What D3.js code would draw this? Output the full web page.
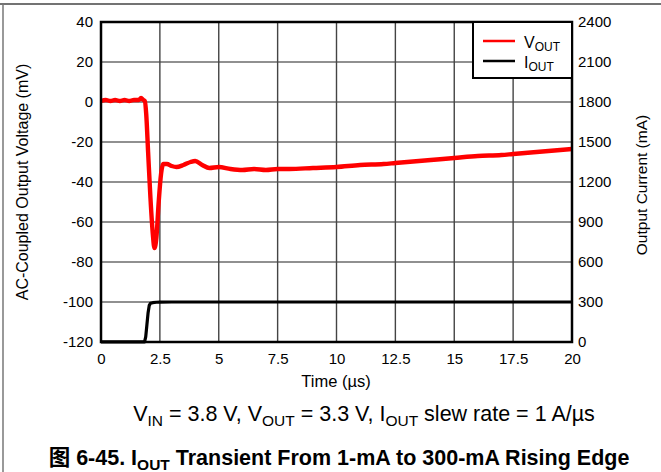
<!DOCTYPE html>
<html>
<head>
<meta charset="utf-8">
<script src="https://cdn.jsdelivr.net/npm/d3@7"></script>
<style>
  body { margin: 0; background: #fff; }
  svg { display: block; font-family: "Liberation Sans", Arial, sans-serif; }
</style>
</head>
<body>
<svg id="chart" width="661" height="472"></svg>
<script>
// time axis (us)
const xTicks = [0, 2.5, 5, 7.5, 10, 12.5, 15, 17.5, 20]
const vTicks = [40, 20, 0, -20, -40, -60, -80, -100, -120]
const iTicks = [0, 300, 600, 900, 1200, 1500, 1800, 2100, 2400]

// VOUT, AC-coupled (mV)
const vTime = [0, 0.2, 0.4, 0.6, 0.8, 1.0, 1.2, 1.4, 1.6, 1.7, 1.8, 1.86, 1.92, 2.0, 2.1, 2.2, 2.27, 2.35, 2.45, 2.55, 2.65,
  2.8, 3.0, 3.2, 3.5, 3.8, 4.0, 4.3, 4.6, 5.0, 5.5, 6.0, 6.5, 7.0, 7.5, 8.0, 9.0, 10.0, 11.0, 12.0, 12.5, 13.0,
  14.0, 15.0, 16.0, 17.0, 17.5, 18.0, 19.0, 20.0]
const vOut = [0.5, 1, 0.5, 1, 0.5, 1, 0.5, 1, 1, 2, 1, 0.5, -6, -25, -48, -66, -73, -68, -50, -36, -31,
  -31, -32, -32.5, -31.5, -30, -29.5, -31.5, -33, -32.5, -33.5, -34, -33.5, -34, -33.5, -33.5, -33, -32.5, -31.5, -31, -30.5, -30,
  -29, -28, -27, -26.5, -26, -25.5, -24.5, -23.5]

// IOUT (mA)
const iTime = [0, 1.85, 1.9, 1.95, 2.0, 2.05, 2.1, 2.2, 2.35, 2.5, 3.0, 20]
const iOut = [1, 1, 40, 130, 220, 275, 290, 295, 298, 299, 300, 300]

const svg = d3.select("#chart")
const pL = 101, pR = 572, pT = 22, pB = 342

const x = d3.scaleLinear().domain([0, 20]).range([pL, pR])
const yV = d3.scaleLinear().domain([-120, 40]).range([pB, pT])
const yI = d3.scaleLinear().domain([0, 2400]).range([pB, pT])

// outer frame
svg.append("line").attr("x1", 0).attr("x2", 661).attr("y1", 4).attr("y2", 4)
  .attr("stroke", "#444").attr("stroke-width", 1.5)
svg.append("line").attr("x1", 3).attr("x2", 3).attr("y1", 4).attr("y2", 472)
  .attr("stroke", "#777").attr("stroke-width", 1.5)

// grid
const grid = svg.append("g")
grid.selectAll("line.h").data(vTicks).enter().append("line")
  .attr("x1", pL).attr("x2", pR)
  .attr("y1", d => yV(d)).attr("y2", d => yV(d))
  .attr("stroke", "#222").attr("stroke-width", 1.2)
grid.selectAll("line.v").data(xTicks).enter().append("line")
  .attr("y1", pT).attr("y2", pB)
  .attr("x1", d => x(d)).attr("x2", d => x(d))
  .attr("stroke", "#444").attr("stroke-width", 1.4)

// axes (labels only, the frame is drawn separately)
const axisFont = g => g.call(g => g.select(".domain").remove())
  .selectAll("text").attr("font-size", 15).attr("fill", "#000")
  .attr("font-family", "Liberation Sans, Arial, sans-serif")

svg.append("g").attr("transform", `translate(${pL},0)`)
  .call(d3.axisLeft(yV).tickValues(vTicks).tickFormat(d => String(d)).tickSize(0).tickPadding(8))
  .call(axisFont)
svg.append("g").attr("transform", `translate(${pR},0)`)
  .call(d3.axisRight(yI).tickValues(iTicks).tickFormat(d => String(d)).tickSize(0).tickPadding(6))
  .call(axisFont)
svg.append("g").attr("transform", `translate(0,${pB})`)
  .call(d3.axisBottom(x).tickValues(xTicks).tickFormat(d => String(d)).tickSize(0).tickPadding(11))
  .call(axisFont)

// data lines
const iLine = d3.line().x((d, i) => x(iTime[i])).y(d => yI(d))
svg.append("path").datum(iOut).attr("d", iLine)
  .attr("fill", "none").attr("stroke", "#000").attr("stroke-width", 3.2)
  .attr("stroke-linejoin", "round")

const vLine = d3.line().x((d, i) => x(vTime[i])).y(d => yV(d)).curve(d3.curveMonotoneX)
svg.append("path").datum(vOut).attr("d", vLine)
  .attr("fill", "none").attr("stroke", "#ff0000").attr("stroke-width", 4.4)
  .attr("stroke-linejoin", "round")

// plot border
svg.append("rect").attr("x", pL).attr("y", pT)
  .attr("width", pR - pL).attr("height", pB - pT)
  .attr("fill", "none").attr("stroke", "#000").attr("stroke-width", 2.5)

// legend
const lg = svg.append("g")
lg.append("rect").attr("x", 473).attr("y", pT).attr("width", pR - 473).attr("height", 56)
  .attr("fill", "#fff").attr("stroke", "#000").attr("stroke-width", 2)
const legendItems = [
  { name: "V", sub: "OUT", color: "#ff0000", y: 41 },
  { name: "I", sub: "OUT", color: "#000", y: 61 }
]
legendItems.forEach(it => {
  lg.append("line").attr("x1", 483).attr("x2", 515).attr("y1", it.y).attr("y2", it.y)
    .attr("stroke", it.color).attr("stroke-width", 2.5)
  const t = lg.append("text").attr("x", 524).attr("y", it.y + 7).attr("font-size", 16)
  t.append("tspan").text(it.name)
  t.append("tspan").attr("dy", 3).attr("font-size", 12).text(it.sub)
})

// axis titles
svg.append("text").attr("x", 336).attr("y", 387).attr("text-anchor", "middle")
  .attr("font-size", 16.5).text("Time (\u00b5s)")
svg.append("text").attr("transform", "translate(28,182) rotate(-90)").attr("text-anchor", "middle")
  .attr("font-size", 16).text("AC-Coupled Output Voltage (mV)")
svg.append("text").attr("transform", "translate(647,185) rotate(-90)").attr("text-anchor", "middle")
  .attr("font-size", 15.5).text("Output Current (mA)")

// conditions line
const cond = svg.append("text").attr("x", 364).attr("y", 421).attr("text-anchor", "middle")
  .attr("font-size", 21.5)
const condParts = [["V", "IN", " = 3.8 V, V"], ["", "OUT", " = 3.3 V, I"], ["", "OUT", " slew rate = 1 A/\u00b5s"]]
condParts.forEach(p => {
  if (p[0]) cond.append("tspan").text(p[0])
  cond.append("tspan").attr("dy", 5).attr("font-size", 15.5).text(p[1])
  cond.append("tspan").attr("dy", -5).text(p[2])
})

// caption
const cap = svg.append("text").attr("x", 339).attr("y", 465).attr("text-anchor", "middle")
  .attr("font-size", 21.5).attr("font-weight", "bold")
cap.append("tspan").attr("font-family", "Noto Sans CJK SC").text("\u56fe")
cap.append("tspan").text(" 6-45. I")
cap.append("tspan").attr("dy", 5).attr("font-size", 15.5).text("OUT")
cap.append("tspan").attr("dy", -5).text(" Transient From 1-mA to 300-mA Rising Edge")
</script>
</body>
</html>
